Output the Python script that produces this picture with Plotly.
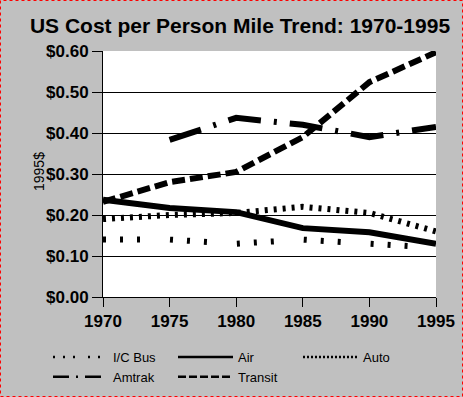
import plotly.graph_objects as go

years = [1970, 1975, 1980, 1985, 1990, 1995]
ic_bus = [0.14, 0.14, 0.13, 0.14, 0.13, 0.12]
air = [0.237, 0.217, 0.207, 0.168, 0.158, 0.13]
auto = [0.19, 0.20, 0.205, 0.22, 0.205, 0.16]
amtrak = [None, 0.383, 0.437, 0.42, 0.39, 0.415]
transit = [0.232, 0.28, 0.305, 0.39, 0.524, 0.597]
y_ticks = [0.0, 0.1, 0.2, 0.3, 0.4, 0.5, 0.6]

series = [
    ("I/C Bus", ic_bus, "3px,14px,3px,14px,3px,30px", 6, "2px,8px,2px,8px,2px,13px"),
    ("Air", air, "solid", 6, "solid"),
    ("Auto", auto, "3px,6px", 6, "2px,2px"),
    ("Amtrak", amtrak, "33px,13px,3px,13px", 6, "16px,7px,2px,7px"),
    ("Transit", transit, "13px,5px", 6, "8px,3px"),
]

fig = go.Figure()
for name, vals, dash, w, ldash in series:
    fig.add_trace(go.Scatter(x=years, y=vals, mode="lines", name=name,
                             line=dict(color="black", width=w, dash=dash),
                             showlegend=False, connectgaps=False))
for name, vals, dash, w, ldash in series:
    fig.add_trace(go.Scatter(x=[None], y=[None], mode="lines", name=name,
                             line=dict(color="black", width=2.5, dash=ldash),
                             showlegend=True))

W, H = 463, 397
L, R, T, B = 103, 27, 51, 100
pw, ph = W - L - R, H - T - B

def px(x):
    return (x - L) / pw

def py(y):
    return (H - B - y) / ph

fig.update_layout(
    width=W, height=H,
    margin=dict(l=L, r=R, t=T, b=B, autoexpand=False),
    paper_bgcolor="#c0c0c0",
    plot_bgcolor="white",
    font=dict(family="Liberation Sans, Arial, sans-serif", color="black"),
    title=dict(text="US Cost per Person Mile Trend: 1970-1995",
               font=dict(size=21, weight="bold", color="black"),
               x=240 / W, xanchor="center", y=1 - 26 / H, yanchor="middle"),
    xaxis=dict(range=[1970, 1995], tickvals=years, ticks="outside", ticklen=9,
               tickcolor="black", showline=True, linecolor="black", linewidth=1,
               showgrid=False, zeroline=False,
               tickfont=dict(size=17, weight="bold", color="black")),
    yaxis=dict(range=[0, 0.6], tickvals=y_ticks, tickformat="$.2f", ticks="outside",
               ticklen=10, tickcolor="black", showline=True, linecolor="black",
               linewidth=1, showgrid=True, gridcolor="black", gridwidth=1,
               zeroline=False, tickfont=dict(size=17, weight="bold", color="black")),
    legend=dict(orientation="h", x=px(48), xanchor="left", y=py(342), yanchor="top",
                entrywidth=55, entrywidthmode="pixels", itemwidth=55,
                bgcolor="rgba(0,0,0,0)", font=dict(size=13, color="black"),
                tracegroupgap=0),
    annotations=[dict(text="1995$", textangle=-90, xref="paper", yref="paper",
                      x=px(29), y=py(172), showarrow=False,
                      font=dict(size=14, color="black"))],
    shapes=[dict(type="rect", xref="paper", yref="paper",
                 x0=px(0.5), x1=px(W - 0.5), y0=py(H - 0.5), y1=py(0.5),
                 line=dict(color="red", width=1, dash="dot"), layer="above")],
)

fig.write_html("out.html", config={"displayModeBar": False},
               post_script="document.body.style.margin='0';document.body.style.overflow='hidden';")
